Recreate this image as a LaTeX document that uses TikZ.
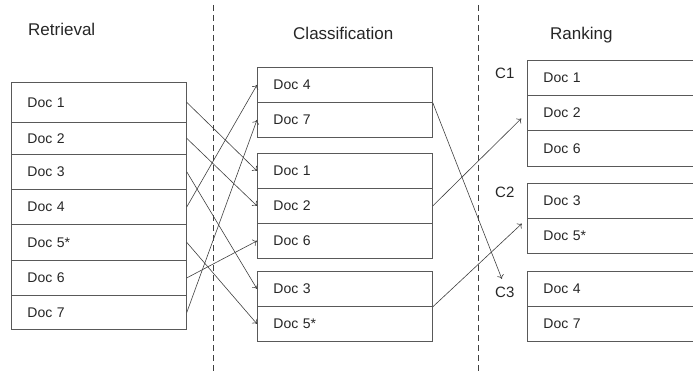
\documentclass[tikz,border=0pt]{standalone}
\usepackage{fontspec}
\setmainfont{Liberation Sans}
\usetikzlibrary{arrows.meta}
\begin{document}
\begin{tikzpicture}[x=1pt,y=-1pt,
  cell/.style={draw=black!65, line width=0.8pt, fill=white, inner xsep=16pt, inner ysep=0pt,
    text width=#1, align=left, anchor=north west, font=\fontsize{14}{16}\selectfont, text=black!85},
  cl/.style={cell=143pt},
  cr/.style={cell=161pt},
  title/.style={anchor=base west, inner sep=0pt, font=\fontsize{17}{19}\selectfont, text=black!85},
  clabel/.style={anchor=base west, inner sep=0pt, font=\fontsize{15}{17}\selectfont, text=black!85},
  link/.style={draw=black!75, line width=0.6pt, -{To[length=4pt,width=7pt]}},
  sep/.style={draw=black!75, line width=0.7pt, dash pattern=on 6pt off 4pt}]
\useasboundingbox (0,0) rectangle (693,374);
\clip (0,0) rectangle (693,374);

% titles
\node[title] (tr) at (28,35.7) {Retrieval};
\node[title] (tc) at (293,40) {Classification};
\node[title] (tk) at (550,40) {Ranking};

% separators
\coordinate (s1a) at (213,5);
\coordinate (s1b) at (213,372);
\coordinate (s2a) at (478,5);
\coordinate (s2b) at (478,372);
\draw[sep] (s1a) -- (s1b);
\draw[sep] (s2a) -- (s2b);

% retrieval column
\node[cl, minimum height=40pt] (l1) at (11,82) {Doc 1};
\node[cl, minimum height=32pt] (l2) at (11,122) {Doc 2};
\node[cl, minimum height=35pt] (l3) at (11,154) {Doc 3};
\node[cl, minimum height=35pt] (l4) at (11,189) {Doc 4};
\node[cl, minimum height=36pt] (l5) at (11,224) {Doc 5*};
\node[cl, minimum height=35pt] (l6) at (11,260) {Doc 6};
\node[cl, minimum height=34pt] (l7) at (11,295) {Doc 7};

% classification column
\node[cl, minimum height=35pt] (m4) at (257,67) {Doc 4};
\node[cl, minimum height=35pt] (m7) at (257,102) {Doc 7};
\node[cl, minimum height=35pt] (m1) at (257,153) {Doc 1};
\node[cl, minimum height=35pt] (m2) at (257,188) {Doc 2};
\node[cl, minimum height=35pt] (m6) at (257,223) {Doc 6};
\node[cl, minimum height=35pt] (m3) at (257,271) {Doc 3};
\node[cl, minimum height=35pt] (m5) at (257,306) {Doc 5*};

% ranking column
\node[cr, minimum height=35pt] (r1) at (527,60) {Doc 1};
\node[cr, minimum height=35pt] (r2) at (527,95) {Doc 2};
\node[cr, minimum height=36pt] (r6) at (527,130) {Doc 6};
\node[cr, minimum height=35pt] (r3) at (527,183) {Doc 3};
\node[cr, minimum height=35pt] (r5) at (527,218) {Doc 5*};
\node[cr, minimum height=35pt] (r4) at (527,271) {Doc 4};
\node[cr, minimum height=35pt] (r7) at (527,306) {Doc 7};

\node[clabel] (c1) at (495,79) {C1};
\node[clabel] (c2) at (495,198) {C2};
\node[clabel] (c3) at (495,297) {C3};

% retrieval -> classification
\draw[link] (l1.east) -- (m1.west);
\draw[link] (l2.east) -- (m2.west);
\draw[link] (l3.east) -- (m3.west);
\draw[link] (l4.east) -- (m4.west);
\draw[link] (l5.east) -- (m5.west);
\draw[link] (l6.east) -- (m6.west);
\draw[link] (l7.east) -- (m7.west);

% classification -> ranking
\draw[link, shorten >=8pt] (m4.south east) -- (c3.north);
\draw[link, shorten >=8pt] (m2.east) -- (r2.west);
\draw[link, shorten >=7pt] (m3.south east) -- (r3.south west);
\end{tikzpicture}
\end{document}
